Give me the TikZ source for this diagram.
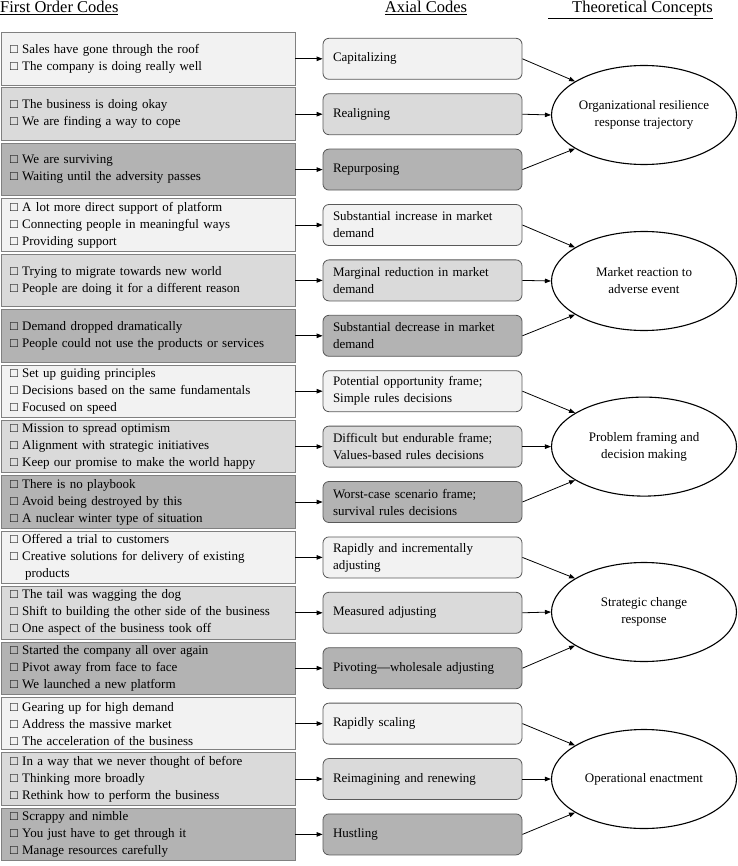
\documentclass[tikz,border=0pt]{standalone}
\usepackage{fontspec}
\setmainfont{Liberation Serif}
\usepackage{xcolor}
\usetikzlibrary{shapes.geometric, arrows.meta, positioning}

\definecolor{lvlA}{HTML}{F2F2F2}
\definecolor{lvlB}{HTML}{DADADA}
\definecolor{lvlC}{HTML}{B3B3B3}

\begin{document}
\begin{tikzpicture}[
    x=1pt, y=-1pt,
    head/.style={inner sep=0pt, font=\fontsize{16.5}{20}\selectfont},
    codebox/.style={draw=black!50, line width=0.9pt, rectangle, minimum width=294pt,
      minimum height=52.5pt, text width=276pt, inner xsep=9pt, align=left,
      font=\fontsize{13}{17}\selectfont},
    axbox/.style={draw=black!65, line width=0.8pt, rectangle, rounded corners=6pt,
      minimum width=199pt, minimum height=41pt, text width=179pt, inner xsep=10pt,
      align=left, font=\fontsize{13}{17}\selectfont},
    concept/.style={draw, ellipse, line width=1.1pt, minimum width=185pt,
      minimum height=99pt, inner sep=0pt, align=center, fill=white,
      font=\fontsize{13}{17}\selectfont},
    arrow/.style={line width=0.8pt, -{Triangle[length=6pt, width=4.5pt]}}
]
\useasboundingbox (0,0) rectangle (737,866);

% Column headers
\node[head, anchor=base west] (hfirst) at (0,13) {\underline{First Order Codes}};
\node[head, anchor=base] (haxial) at (426,13) {\underline{Axial Codes}};
\node[head, anchor=base west] (htheory) at (548,13) {\underline{\hspace{24pt}Theoretical Concepts}};

% First order codes
\node[codebox, fill=lvlA] (fo1) at (148,58.8) {□ Sales have gone through the roof\\□ The company is doing really well};
\node[codebox, fill=lvlB] (fo2) at (148,114.2) {□ The business is doing okay\\□ We are finding a way to cope};
\node[codebox, fill=lvlC] (fo3) at (148,169.6) {□ We are surviving\\□ Waiting until the adversity passes};
\node[codebox, fill=lvlA] (fo4) at (148,225.0) {□ A lot more direct support of platform\\□ Connecting people in meaningful ways\\□ Providing support};
\node[codebox, fill=lvlB] (fo5) at (148,280.4) {□ Trying to migrate towards new world\\□ People are doing it for a different reason};
\node[codebox, fill=lvlC] (fo6) at (148,335.8) {□ Demand dropped dramatically\\□ People could not use the products or services};
\node[codebox, fill=lvlA] (fo7) at (148,391.2) {□ Set up guiding principles\\□ Decisions based on the same fundamentals\\□ Focused on speed};
\node[codebox, fill=lvlB] (fo8) at (148,446.6) {□ Mission to spread optimism\\□ Alignment with strategic initiatives\\□ Keep our promise to make the world happy};
\node[codebox, fill=lvlC] (fo9) at (148,502.0) {□ There is no playbook\\□ Avoid being destroyed by this\\□ A nuclear winter type of situation};
\node[codebox, fill=lvlA] (fo10) at (148,557.4) {□ Offered a trial to customers\\□ Creative solutions for delivery of existing\\\hspace*{15pt}products};
\node[codebox, fill=lvlB] (fo11) at (148,612.8) {□ The tail was wagging the dog\\□ Shift to building the other side of the business\\□ One aspect of the business took off};
\node[codebox, fill=lvlC] (fo12) at (148,668.2) {□ Started the company all over again\\□ Pivot away from face to face\\□ We launched a new platform};
\node[codebox, fill=lvlA] (fo13) at (148,723.6) {□ Gearing up for high demand\\□ Address the massive market\\□ The acceleration of the business};
\node[codebox, fill=lvlB] (fo14) at (148,779.0) {□ In a way that we never thought of before\\□ Thinking more broadly\\□ Rethink how to perform the business};
\node[codebox, fill=lvlC] (fo15) at (148,834.4) {□ Scrappy and nimble\\□ You just have to get through it\\□ Manage resources carefully};

% Axial codes
\node[axbox, fill=lvlA] (ax1) at (422.5,58.8) {Capitalizing};
\node[axbox, fill=lvlB] (ax2) at (422.5,114.2) {Realigning};
\node[axbox, fill=lvlC] (ax3) at (422.5,169.6) {Repurposing};
\node[axbox, fill=lvlA] (ax4) at (422.5,225.0) {Substantial increase in market\\demand};
\node[axbox, fill=lvlB] (ax5) at (422.5,280.4) {Marginal reduction in market\\demand};
\node[axbox, fill=lvlC] (ax6) at (422.5,335.8) {Substantial decrease in market\\demand};
\node[axbox, fill=lvlA] (ax7) at (422.5,391.2) {Potential opportunity frame;\\Simple rules decisions};
\node[axbox, fill=lvlB] (ax8) at (422.5,446.6) {Difficult but endurable frame;\\Values-based rules decisions};
\node[axbox, fill=lvlC] (ax9) at (422.5,502.0) {Worst-case scenario frame;\\survival rules decisions};
\node[axbox, fill=lvlA] (ax10) at (422.5,557.4) {Rapidly and incrementally\\adjusting};
\node[axbox, fill=lvlB] (ax11) at (422.5,612.8) {Measured adjusting};
\node[axbox, fill=lvlC] (ax12) at (422.5,668.2) {Pivoting—wholesale adjusting};
\node[axbox, fill=lvlA] (ax13) at (422.5,723.6) {Rapidly scaling};
\node[axbox, fill=lvlB] (ax14) at (422.5,779.0) {Reimagining and renewing};
\node[axbox, fill=lvlC] (ax15) at (422.5,834.4) {Hustling};

% Theoretical concepts
\node[concept] (tc1) at (644,115) {Organizational resilience\\response trajectory};
\node[concept] (tc2) at (644,281) {Market reaction to\\adverse event};
\node[concept] (tc3) at (644,446.6) {Problem framing and\\decision making};
\node[concept] (tc4) at (644,612) {Strategic change\\response};
\node[concept] (tc5) at (644,779) {Operational enactment};

% Arrows
\foreach \i in {1,...,15}
  \draw[arrow] (fo\i.east) -- (ax\i.west);
\foreach \t/\a/\b/\c in {1/1/2/3, 2/4/5/6, 3/7/8/9, 4/10/11/12, 5/13/14/15} {
  \draw[arrow] (ax\a.east) -- (tc\t.154);
  \draw[arrow] (ax\b.east) -- (tc\t.west);
  \draw[arrow] (ax\c.east) -- (tc\t.206);
}

\end{tikzpicture}
\end{document}
